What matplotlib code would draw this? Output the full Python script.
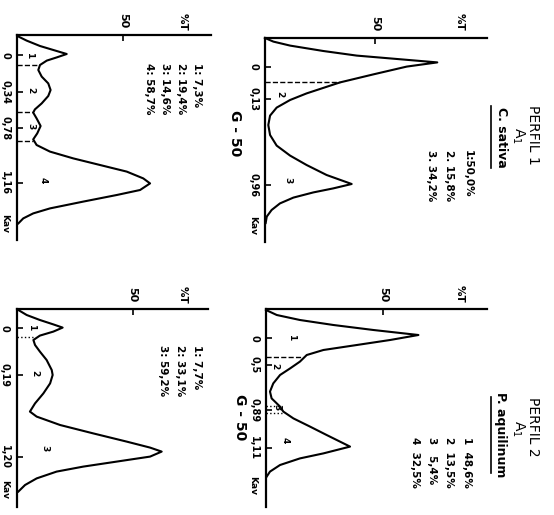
import matplotlib
matplotlib.use("Agg")
import matplotlib.pyplot as plt
from matplotlib.lines import Line2D

W, H = 554, 515

# ---- data: %T against elution distance ----
# PERFIL 1, C. sativa (G-50)
a_T = [0, 3.8, 11.4, 26.5, 41.7, 56.8, 78.3, 64.4, 49.2, 34.1, 18.9, 11.4, 5.3,
       2.3, 1.5, 2.3, 5.3, 11.4, 18.9, 28.0, 39.4, 31.0, 22.0, 12.9, 6.8, 3.0, 0.8, 0.3]
a_e = [0, 1.8, 3.8, 6.5, 8.8, 10.2, 12.2, 14.3, 18.2, 22.2, 27.7, 31.0, 34.8,
       38.8, 43.5, 48.5, 53.8, 58.8, 63.5, 68.5, 73.0, 75.2, 77.2, 79.8, 82.7, 86.0, 89.3, 92.5]
a_ticks = [14.3, 30.5, 73.5]
a_ticklabels = ["0", "0,13", "0,96"]
a_pct = ["1:50,0%", "2. 15,8%", "3. 34,2%"]

# PERFIL 2, P. aquilinum (G-50)
b_T = [0, 4.6, 14.5, 28.8, 45.9, 65.1, 53.0, 38.8, 24.5, 17.4, 14.5, 10.3, 6.0, 3.1,
       1.7, 2.4, 4.6, 6.0, 7.4, 11.7, 18.8, 25.9, 35.9, 24.5, 14.5, 6.0, 1.7, 0.3]
b_e = [0.5, 3.0, 5.5, 8.0, 10.5, 13.0, 15.5, 18.0, 20.5, 23.0, 26.3, 29.7, 33.0, 37.2,
       41.3, 44.7, 47.2, 48.8, 51.3, 54.7, 58.8, 63.0, 68.8, 72.2, 74.7, 78.0, 81.3, 83.8]
b_ticks = [14.7, 28.0, 50.5, 69.7]
b_ticklabels = ["0", "0,5", "0,89", "1,11"]
b_pct = ["1  48,6%", "2  13,5%", "3   5,4%", "4  32,5%"]

# second row, left: four fractions
c_T = [0, 4.4, 10.7, 17.0, 23.3, 18.6, 13.9, 10.7, 9.9, 11.5, 14.6, 15.7, 14.6, 11.5,
       8.3, 7.5, 9.1, 11.0, 9.4, 7.5, 9.1, 15.4, 26.4, 39.0, 51.6, 59.4, 62.6, 57.9,
       46.9, 31.1, 15.4, 7.5, 2.8, 0.5]
c_e = [0.5, 2.8, 5.5, 7.5, 9.5, 11.2, 12.8, 15.0, 17.5, 20.8, 24.2, 27.5, 30.5, 34.2,
       37.2, 38.8, 41.7, 45.5, 49.2, 52.2, 55.0, 58.3, 61.7, 65.0, 68.3, 71.7, 74.2, 77.5,
       80.0, 83.3, 86.7, 89.2, 91.7, 94.2]
c_ticks = [10.0, 28.3, 46.7, 74.2]
c_ticklabels = ["0", "0,34", "0,78", "1,16"]
c_pct = ["1: 7,3%", "2: 19,4%", "3: 14,6%", "4: 58,7%"]

# second row, right: three fractions
d_T = [0.7, 4.3, 10.0, 15.8, 19.8, 15.8, 10.0, 7.2, 7.9, 10.0, 12.9, 15.1, 15.5, 14.4,
       11.5, 7.9, 5.7, 8.6, 18.7, 33.0, 47.4, 57.5, 62.5, 57.5, 43.1, 28.7, 17.2, 8.6, 3.6, 0.7]
d_e = [0.5, 3.0, 5.5, 7.7, 9.3, 11.3, 13.3, 15.5, 18.0, 21.3, 25.5, 30.5, 33.0, 37.2,
       42.2, 47.2, 51.3, 53.8, 58.0, 62.2, 66.3, 69.3, 71.3, 73.8, 76.3, 78.8, 81.3, 84.7, 88.0, 91.3]
d_ticks = [9.7, 33.0, 73.8]
d_ticklabels = ["0", "0,19", "1,20"]
d_pct = ["1: 7,7%", "2: 33,1%", "3: 59,2%"]

plt.rcParams['font.family'] = ['DejaVu Sans']
fig = plt.figure(figsize=(W / 100, H / 100), dpi=100)
fig.patch.set_facecolor("white")


def fx(x):
    return x / W


def fy(y):
    return 1 - y / H


def ftext(x, y, s, size=8, weight="bold", **kw):
    kw.setdefault("ha", "center")
    kw.setdefault("va", "center")
    fig.text(fx(x), fy(y), s, rotation=-90, fontsize=size, fontweight=weight, **kw)


def panel(box, tmax, emax, T, e, ticks, ticklabels):
    l, t, r, b = box
    ax = fig.add_axes([fx(l), fy(b), (r - l) / W, (b - t) / H])
    ax.patch.set_visible(False)
    ax.set_xlim(0, tmax)
    ax.set_ylim(emax, 0)
    for side in ("right", "bottom"):
        ax.spines[side].set_visible(False)
    for side in ("left", "top"):
        ax.spines[side].set_linewidth(1.6)
    ax.xaxis.tick_top()
    ax.set_xticks([50], ["50"], rotation=-90, fontsize=8, fontweight="bold")
    ax.set_yticks(ticks, ticklabels, rotation=-90, fontsize=7, fontweight="bold", va="center")
    ax.tick_params(axis="both", direction="in", length=4, width=1.2, pad=5)
    ax.plot(T, e, color="black", lw=1.5, clip_on=False)
    return ax


def cut(ax, e, t_end, style="--"):
    ax.plot([0, t_end], [e, e], style, color="black", lw=1.0, clip_on=False)


def peak(ax, T, e, s):
    ax.text(T, e, s, rotation=-90, fontsize=6.5, fontweight="bold", ha="center", va="center")


# panel A
axA = panel((265, 38, 487, 242), 100.9, 102, a_T, a_e, a_ticks, a_ticklabels)
cut(axA, 22.2, 34)
peak(axA, 6.8, 28, "2")
peak(axA, 10.6, 71, "3")

# panel B
axB = panel((266, 309, 487, 507), 94.4, 99, b_T, b_e, b_ticks, b_ticklabels)
cut(axB, 23.8, 16)
cut(axB, 48.5, 5.5, ":")
cut(axB, 52.0, 7, ":")
peak(axB, 11, 14.2, "1")
peak(axB, 3.8, 28.8, "2")
peak(axB, 4.6, 49.3, "3")
peak(axB, 8.1, 65.5, "4")

# panel C
axC = panel((17.3, 35, 210.7, 240), 91.2, 102.5, c_T, c_e, c_ticks, c_ticklabels)
cut(axC, 15.0, 10.4)
cut(axC, 38.3, 7.5)
cut(axC, 52.8, 7.5)
peak(axC, 6.0, 10, "1")
peak(axC, 6.3, 27.5, "2")
peak(axC, 6.3, 45.5, "3")
peak(axC, 12.3, 72.5, "4")

# panel D
axD = panel((16.7, 309, 208.3, 507), 82.6, 99, d_T, d_e, d_ticks, d_ticklabels)
cut(axD, 14.2, 7, ":")
peak(axD, 6.5, 9.3, "1")
peak(axD, 7.9, 32, "2")
peak(axD, 12.2, 69.7, "3")

# axis names
for x, y in [(460, 22), (460, 294), (183, 22), (183, 295)]:
    ftext(x, y, "%T", size=7.5)
for x, y in [(253, 225), (253, 485), (5, 223), (5, 490)]:
    ftext(x, y, "Kav", size=6.5)

# gel labels
ftext(235, 133, "G - 50", size=10)
ftext(240, 417, "G - 50", size=10)

# headings
ftext(533, 135, "PERFIL 1", size=10, weight="normal")
ftext(518, 135, "A$_1$", size=10, weight="normal")
ftext(501, 137, "C. sativa", size=9, weight="semibold")
fig.add_artist(Line2D([fx(491), fx(491)], [fy(106), fy(168)], color="black", lw=1.2))
ftext(533, 427, "PERFIL 2", size=10, weight="normal")
ftext(518, 428, "A$_1$", size=10, weight="normal")
ftext(501, 435, "P. aquilinum", size=9, weight="semibold")
fig.add_artist(Line2D([fx(491), fx(491)], [fy(397), fy(473)], color="black", lw=1.2))

# percentage tables
for i, s in enumerate(a_pct):
    ftext(468 - 18.5 * i, 150, s, size=7.5, va="top")
for i, s in enumerate(b_pct):
    ftext(467 - 17.5 * i, 437, s, size=7.5, va="top")
for i, s in enumerate(c_pct):
    ftext(197 - 16 * i, 63, s, size=7.5, va="top")
for i, s in enumerate(d_pct):
    ftext(197 - 17 * i, 345, s, size=7.5, va="top")

fig.savefig("out.png", dpi=100, facecolor="white")
